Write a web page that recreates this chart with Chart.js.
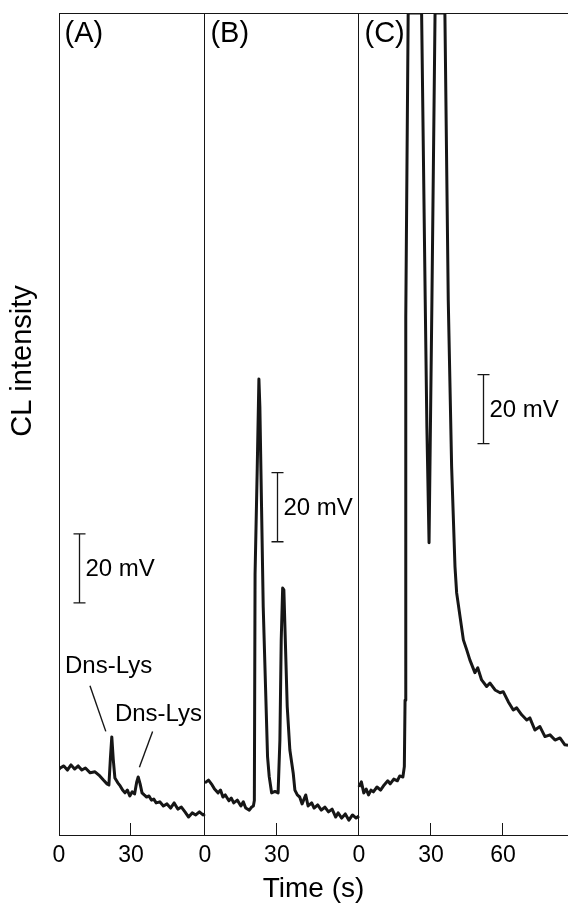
<!DOCTYPE html>
<html>
<head>
<meta charset="utf-8">
<script src="https://cdn.jsdelivr.net/npm/chart.js@4.4.0/dist/chart.umd.min.js"></script>
<style>
  body { margin: 0; background: #fff; }
  #wrap { width: 568px; height: 906px; }
</style>
</head>
<body>
<div id="wrap"><canvas id="grafico" width="568" height="906"></canvas></div>
<script>
// Painéis (A), (B), (C): duração de cada eixo em segundos e ticks
const painelRotulos = ['(A)', '(B)', '(C)'];
const painelDuracao = [60.8, 64.2, 87.1];
const painelTicks = [[0, 30], [0, 30], [0, 30, 60]];

// Sinal de CL (mV acima da base do gráfico)
const tempoA = [0, 0.5, 2, 3.5, 5, 6.5, 8, 9.5, 11, 13, 15, 17, 18.5, 20, 20.8, 21.4, 22.0, 22.6, 23.3, 24.5,
  25.5, 26.5, 27.5, 28.5, 29.5, 30.5, 31.5, 32.4, 33, 33.8, 34.6, 35.5, 36.5, 37.5, 38.5, 39.5, 40.5, 42, 43.5, 45,
  46.5, 48, 49.5, 51, 52.5, 54, 55.5, 57, 58.5, 60, 60.8];
const sinalA = [19.0, 19.4, 20.0, 18.8, 20.3, 19.1, 20.0, 18.8, 19.4, 18.0, 18.3, 17.1, 15.9, 14.8, 14.5, 22.0, 28.4, 22.0, 16.5, 15.1,
  14.2, 13.0, 12.2, 13.0, 11.3, 12.5, 11.9, 15.4, 16.8, 14.8, 12.2, 11.6, 11.0, 11.3, 10.1, 10.4, 9.3, 9.6, 8.4, 9.0,
  7.8, 9.3, 7.5, 8.1, 6.7, 5.2, 6.4, 5.8, 6.7, 5.8, 6.1];

const tempoB = [0, 1.5, 3, 4, 5.5, 6.5, 7.5, 8.5, 10, 11, 12, 13.5, 15, 16, 17, 18.5, 19.5, 20.2, 20.6, 20.9,
  21.8, 22.5, 22.9, 23.6, 24.3, 25.3, 26.1, 26.8, 27.8, 29.2, 30.5, 31.25, 31.8, 32.4, 32.9, 33.5, 34.3, 35.4, 36.8, 37.5,
  38.5, 39.5, 40.5, 42, 43, 44.5, 45.5, 47, 48.5, 50, 51.5, 53, 54.5, 55.5, 57, 58.5, 60, 61.5, 63, 64.2];
const sinalB = [15.1, 15.9, 14.5, 13.3, 12.2, 13.0, 11.0, 11.6, 9.9, 10.7, 9.3, 10.1, 8.4, 9.6, 7.8, 7.2, 8.1, 8.4, 10.0, 75.4,
  106, 132, 124, 95, 66, 42, 22.7, 16.9, 12.2, 12.6, 12.2, 27.5, 56.5, 71.5, 71.0, 56.5, 37.2, 24.6, 17.9, 13.0,
  11.6, 11.0, 9.0, 11.6, 8.4, 9.3, 7.8, 8.7, 7.2, 8.1, 6.7, 7.5, 5.2, 6.4, 4.9, 6.1, 4.3, 5.8, 4.9, 5.5];

const tempoC = [0, 1, 2, 3, 4, 5, 6, 7.5, 9, 10.5, 12, 13, 14.5, 16, 17, 18.3, 18.9, 19.2, 19.5, 20.5,
  26.1, 27.6, 28.3, 29.2, 30.4, 31.7, 35.8, 37.2, 38.6, 40, 40.7, 42.1, 43.5, 44.9, 46.2, 48.3, 49.5, 51.1, 53.2, 54.6,
  56.7, 58.8, 60.1, 62.2, 64.3, 65.7, 67.8, 69.9, 71.2, 73.3, 75.4, 77.5, 79.6, 81.7, 83.75, 85.8, 87.1];
const sinalC = [13.9, 15.4, 12.2, 13.3, 11.6, 13.0, 12.5, 13.9, 13.0, 14.5, 15.7, 14.8, 16.2, 15.7, 17.1, 16.8, 19.8, 39, 150, 238,
  238, 155, 118, 84.6, 155, 238, 238, 155, 106.8, 77.8, 70.1, 63.3, 56.5, 53.6, 50.7, 47.0, 48.4, 44.9, 43.0, 44.0,
  42.0, 41.2, 41.5, 38.6, 36.2, 36.8, 34.8, 33.3, 33.9, 30.4, 31.4, 28.5, 29.0, 27.5, 28.1, 26.1, 26.0];

const yMax = 238;
const escalaMV = 20;

// Anotações (painel, tempo em s, sinal em mV)
const barras = [{ p: 0, t: 8.5, v: 67.2 }, { p: 1, t: 30.1, v: 84.9 }, { p: 2, t: 51.5, v: 113.3 }];
const rotulosPico = [{ p: 0, t: 2.5, v: 48.7, texto: 'Dns-Lys' }, { p: 0, t: 23.3, v: 34.8, texto: 'Dns-Lys' }];
const setas = [{ p: 0, t1: 12.9, v1: 43.2, t2: 19.5, v2: 30.0 }, { p: 0, t1: 39.0, v1: 30.0, t2: 33.5, v2: 19.6 }];

const inicioPainel = [];
let acumulado = 0;
painelDuracao.forEach(d => { inicioPainel.push(acumulado); acumulado += d; });
const xMax = acumulado;

const ticksX = [];
const rotulosTicks = [];
painelTicks.forEach((lista, i) => {
  lista.forEach(v => { ticksX.push(inicioPainel[i] + v); rotulosTicks.push(String(v)); });
});

function serie(tempos, sinais, p) {
  return tempos.map((t, i) => ({ x: inicioPainel[p] + t, y: sinais[i] }));
}

const fonte = '"Liberation Sans", Arial, sans-serif';
const cor = '#161616';

const anotacoes = {
  id: 'anotacoes',
  afterDatasetsDraw(chart) {
    const { ctx, chartArea, scales: { x, y } } = chart;
    const px = (p, t) => x.getPixelForValue(inicioPainel[p] + t);
    ctx.save();
    ctx.strokeStyle = cor;
    ctx.fillStyle = '#000';

    // borda superior
    ctx.lineWidth = 1;
    ctx.beginPath();
    ctx.moveTo(chartArea.left, Math.round(chartArea.top) + 0.5);
    ctx.lineTo(chartArea.right, Math.round(chartArea.top) + 0.5);
    ctx.stroke();

    // rótulos dos painéis
    ctx.font = '29px ' + fonte;
    ctx.textBaseline = 'top';
    ctx.textAlign = 'left';
    painelRotulos.forEach((r, i) => ctx.fillText(r, px(i, 2.3), chartArea.top + 6));

    // barras de escala 20 mV
    ctx.lineWidth = 1.3;
    ctx.font = '24px ' + fonte;
    ctx.textBaseline = 'middle';
    barras.forEach(b => {
      const bx = Math.round(px(b.p, b.t)) + 0.5;
      const y1 = y.getPixelForValue(b.v);
      const y2 = y.getPixelForValue(b.v + escalaMV);
      ctx.beginPath();
      ctx.moveTo(bx, y1); ctx.lineTo(bx, y2);
      ctx.moveTo(bx - 6, y1); ctx.lineTo(bx + 6, y1);
      ctx.moveTo(bx - 6, y2); ctx.lineTo(bx + 6, y2);
      ctx.stroke();
      ctx.fillText(escalaMV + ' mV', bx + 6, (y1 + y2) / 2 + 1);
    });

    // Dns-Lys
    rotulosPico.forEach(r => ctx.fillText(r.texto, px(r.p, r.t), y.getPixelForValue(r.v)));
    ctx.lineWidth = 1.4;
    setas.forEach(s => {
      ctx.beginPath();
      ctx.moveTo(px(s.p, s.t1), y.getPixelForValue(s.v1));
      ctx.lineTo(px(s.p, s.t2), y.getPixelForValue(s.v2));
      ctx.stroke();
    });

    // título do eixo y
    ctx.translate(23, 361);
    ctx.rotate(-Math.PI / 2);
    ctx.textAlign = 'center';
    ctx.font = '29px ' + fonte;
    ctx.fillText('CL intensity', 0, 0);
    ctx.restore();
  }
};

const estiloLinha = { borderColor: cor, borderWidth: 3, pointRadius: 0, tension: 0, borderJoinStyle: 'round', fill: false };

new Chart(document.getElementById('grafico'), {
  type: 'line',
  data: {
    datasets: [
      Object.assign({ label: 'A', data: serie(tempoA, sinalA, 0) }, estiloLinha),
      Object.assign({ label: 'B', data: serie(tempoB, sinalB, 1) }, estiloLinha),
      Object.assign({ label: 'C', data: serie(tempoC, sinalC, 2) }, estiloLinha)
    ]
  },
  options: {
    responsive: false,
    animation: false,
    layout: { padding: { left: 59, top: 13, right: 0, bottom: 0 } },
    plugins: { legend: { display: false }, tooltip: { enabled: false } },
    scales: {
      x: {
        type: 'linear',
        min: 0,
        max: xMax,
        afterBuildTicks: axis => { axis.ticks = ticksX.map(v => ({ value: v })); },
        afterFit: axis => { axis.height = 71; },
        ticks: {
          autoSkip: false,
          maxRotation: 0,
          padding: 19,
          color: '#000',
          font: { family: fonte, size: 23 },
          callback: (value, index) => rotulosTicks[index]
        },
        grid: {
          drawOnChartArea: true,
          drawTicks: true,
          tickLength: -12,
          tickColor: cor,
          lineWidth: 1,
          color: c => inicioPainel.some(s => Math.abs(s - c.tick.value) < 0.01) ? cor : 'rgba(0,0,0,0)'
        },
        border: { display: true, color: cor, width: 1 },
        title: {
          display: true,
          text: 'Time (s)',
          color: '#000',
          font: { family: fonte, size: 28 },
          padding: { top: 3, bottom: 0 }
        }
      },
      y: {
        min: 0,
        max: yMax,
        ticks: { display: false },
        grid: { display: true, drawOnChartArea: false, drawTicks: false },
        border: { display: true, color: cor, width: 1 }
      }
    }
  },
  plugins: [anotacoes]
});
</script>
</body>
</html>
